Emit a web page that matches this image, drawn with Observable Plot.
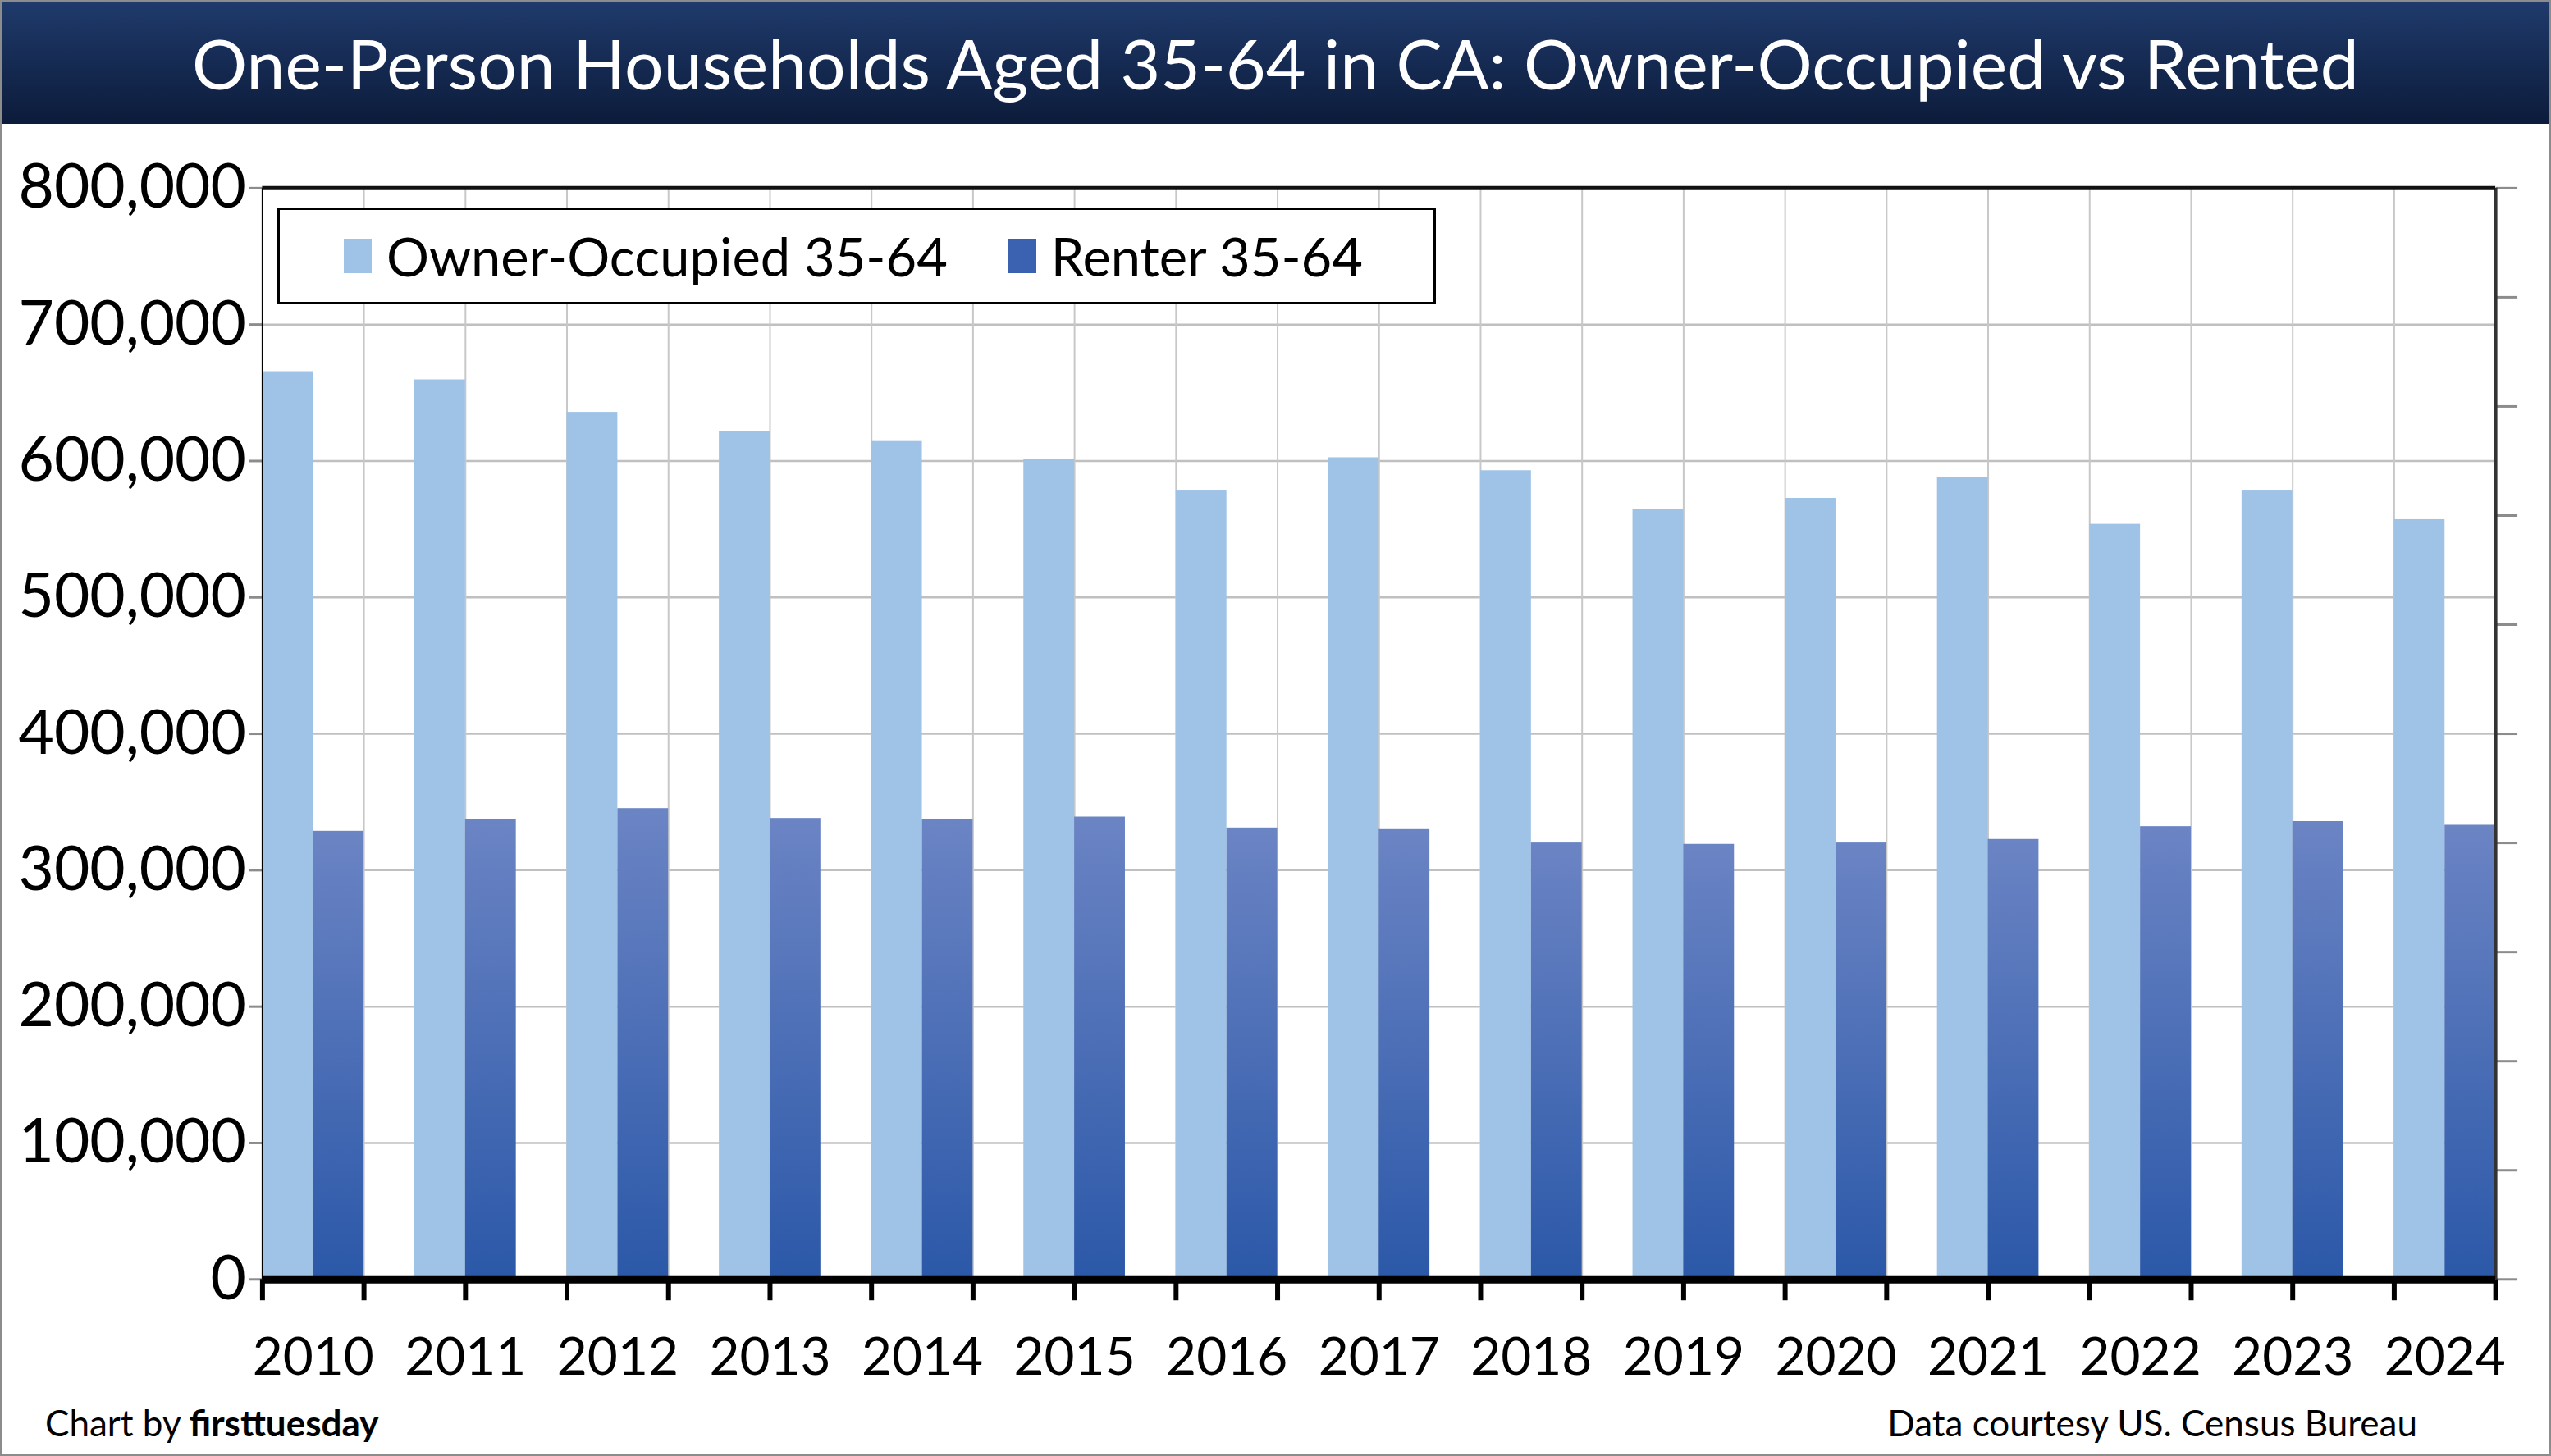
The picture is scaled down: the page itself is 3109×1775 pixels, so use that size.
<!DOCTYPE html>
<html><head><meta charset="utf-8">
<script src="https://cdn.jsdelivr.net/npm/d3@7"></script>
<script src="https://cdn.jsdelivr.net/npm/@observablehq/plot@0.6"></script>
<style>
html,body{margin:0;padding:0;background:#fff;}
#wrap{position:relative;width:3109px;height:1775px;box-sizing:border-box;border:3px solid #8c8c8c;overflow:hidden;font-family:Lato,"Open Sans",sans-serif;}
#title{position:absolute;left:0;top:0;width:100%;height:148px;background:linear-gradient(#1f3a6b,#0c1b3a);color:#fff;font-size:84px;line-height:148px;text-align:center;}
#chart{position:absolute;left:0;top:148px;}
#legend{position:absolute;left:335px;top:250px;width:1412px;height:118px;border:3px solid #000;background:#fff;box-sizing:border-box;display:flex;align-items:center;font-size:65px;}
.sw{display:inline-block;width:34px;height:42px;margin:0 18px 0 0;}
.foot{position:absolute;font-size:44px;top:1705px;}
</style></head><body>
<div id="wrap">
<div id="title">One-Person Households Aged 35-64 in CA: Owner-Occupied vs Rented</div>
<div id="chart"></div>
<div id="legend"><span class="sw" style="background:#9fc3e7;margin-left:78px"></span>Owner-Occupied 35-64<span class="sw" style="background:#3a62b0;margin-left:74px"></span>Renter 35-64</div>
<div class="foot" style="left:52px">Chart by <b>firsttuesday</b></div>
<div class="foot" style="right:160px">Data courtesy US. Census Bureau</div>
</div>
<script>
const years = [2010,2011,2012,2013,2014,2015,2016,2017,2018,2019,2020,2021,2022,2023,2024];
const owner = [665500,659500,635700,621400,614300,601000,578600,602400,592900,564300,572600,588000,553600,578600,557000];
const renter = [328600,336900,345200,338000,337000,339000,331000,329800,320000,319000,320000,322600,332000,335700,333000];
const yTicks = [0,100000,200000,300000,400000,500000,600000,700000,800000];

const idx = years.map((y,i)=>i);
const n = years.length;
const xMax = n - 1/3;
const gridX = d3.range(0,23).map(k=>k*xMax/22);
const rightTicks = d3.range(0,800001,80000);

const W=3109, H=1627;
const plot = Plot.plot({
  width: W, height: H,
  marginLeft: 317, marginRight: 65, marginTop: 78, marginBottom: 216,
  style: {fontFamily: "Lato, 'Open Sans', sans-serif", background: "#fff", color: "#000"},
  x: {type: "linear", domain: [0, xMax], axis: null},
  y: {type: "linear", domain: [0, 800000], axis: null},
  marks: [
    Plot.ruleY(yTicks.slice(1,-1), {stroke: "#c0c0c0", strokeWidth: 2.5}),
    Plot.ruleX(gridX.slice(1,-1), {stroke: "#c8c8c8", strokeWidth: 2}),
    Plot.rectY(idx, {x1: i=>i, x2: i=>i+1/3, y: i=>owner[i], fill: "#9fc3e7"}),
    Plot.rectY(idx, {x1: i=>i+1/3, x2: i=>i+2/3, y: i=>renter[i], fill: "url(#rg)"}),
    Plot.axisY({ticks: yTicks, tickFormat: d3.format(","), fontSize: 75, tickSize: 16, tickPadding: 4, stroke: "#8c8c8c", strokeWidth: 3}),
    Plot.axisY({anchor: "right", ticks: rightTicks, tickFormat: () => "", tickSize: 26, stroke: "#8c8c8c", strokeWidth: 3}),
    Plot.axisX({ticks: gridX, tickFormat: () => "", tickSize: 26, stroke: "#000", strokeWidth: 6}),
    Plot.ruleX([0], {stroke: "#000", strokeWidth: 2}),
    Plot.ruleX([xMax], {stroke: "#333", strokeWidth: 4}),
    Plot.ruleY([800000], {stroke: "#111", strokeWidth: 5}),
    Plot.ruleY([0], {stroke: "#000", strokeWidth: 10}),
    Plot.text(idx, {x: i=>i+1/3, y: 0, dy: 96, text: i=>String(years[i]), fontSize: 64, fill: "#000"})
  ]
});
const svg = d3.select(plot);
const defs = svg.insert("defs", ":first-child");
const g = defs.append("linearGradient").attr("id","rg").attr("x1",0).attr("y1",0).attr("x2",0).attr("y2",1);
g.append("stop").attr("offset","0%").attr("stop-color","#6b84c4");
g.append("stop").attr("offset","100%").attr("stop-color","#2b58a8");
document.getElementById("chart").appendChild(plot);
</script>
</body></html>
